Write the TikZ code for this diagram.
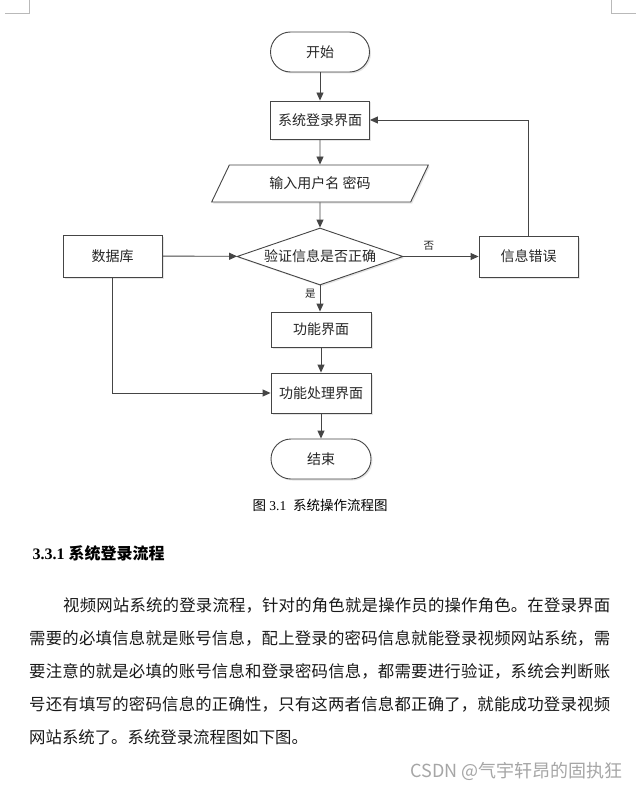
\documentclass[tikz,border=0pt]{standalone}
\usepackage{fontspec}
\setmainfont{Liberation Serif}
\newfontfamily\cjk{Noto Sans CJK SC}
\XeTeXlinebreaklocale "zh"
\XeTeXlinebreakskip=0pt plus 2pt
\usetikzlibrary{arrows.meta,shapes.geometric,shadows}
\definecolor{linegray}{HTML}{454545}

\begin{document}
\begin{tikzpicture}[x=1pt, y=-1pt,
  base/.style={draw=linegray, line width=0.9pt, fill=white, text=black!85,
    font=\cjk\fontsize{14}{16}\selectfont,
    drop shadow={shadow xshift=1.5pt, shadow yshift=-1.5pt, opacity=0.2}},
  proc/.style={base, rectangle, minimum width=99pt, minimum height=40pt},
  term/.style={base, rectangle, rounded corners=20pt, minimum width=99pt, minimum height=40pt},
  io/.style={base, trapezium, trapezium left angle=62, trapezium right angle=118,
    trapezium stretches=true, minimum width=217pt, minimum height=37pt},
  decide/.style={base, diamond, aspect=2.9, inner sep=0pt, minimum width=166pt, minimum height=57pt},
  flow/.style={draw=linegray, line width=0.9pt, -{Triangle[length=8pt,width=7pt]}},
  lbl/.style={inner sep=1pt, text=black!85, font=\cjk\fontsize{10.5}{12}\selectfont},
  para/.style={text width=581pt, inner sep=0pt, align=justify, text=black!90,
    font=\cjk\fontsize{16.4}{33}\selectfont}]
% Page
\fill[white] (0,0) rectangle (644,789);
\useasboundingbox (0,0) rectangle (644,789);
\draw[gray!55, line width=0.8pt] (5,13) -- (29,13) -- (29,0);
\draw[gray!55, line width=0.8pt] (611,0) -- (611,13) -- (636,13);

% Flow
\node[term] (start) at (320,52) {开始};
\node[proc, minimum height=38pt] (login) at (320,120) {系统登录界面};
\node[io] (input) at (320,183.5) {输入用户名 密码};
\node[decide] (check) at (320,256.5) {验证信息是否正确};
\node[proc, minimum height=42pt] (db) at (112.5,256) {数据库};
\node[proc, minimum height=41pt] (err) at (528.5,256.5) {信息错误};
\node[proc, minimum width=100pt, minimum height=35pt] (func) at (321,329.5) {功能界面};
\node[proc, minimum width=100pt] (work) at (321,393) {功能处理界面};
\node[term, minimum width=100pt] (stop) at (321,459) {结束};

% Connectors
\draw[flow] (start) -- (login);
\draw[flow] (login) -- (input);
\draw[flow] (input) -- (check);
\draw[flow] (db) -- (check);
\draw[flow] (check) -- node[lbl, pos=0.34, above=5pt] {否} (err);
\draw[flow] (err.north) |- (login.east);
\draw[flow] (check.south) -- node[lbl, pos=0.3, left=3pt] {是} (check.south |- func.north);
\draw[flow] (func) -- (work);
\draw[flow] (db.south) |- (work.west);
\draw[flow] (work) -- (stop);

% Text
\node[font=\fontsize{13.5}{15}\selectfont] (cap) at (320,505) {{\cjk 图} 3.1\enspace{\cjk 系统操作流程图}};
\node[anchor=base west, font=\fontsize{16}{18}\selectfont\bfseries] (head) at (29,559) {3.3.1 {\cjk 系统登录流程}};
\node[para, anchor=north west] (body) at (29,597) {\hspace*{34pt}视频网站系统的登录流程，针对的角色就是操作员的操作角色。在登录界面\linebreak
需要的必填信息就是账号信息，配上登录的密码信息就能登录视频网站系统，需\linebreak
要注意的就是必填的账号信息和登录密码信息，都需要进行验证，系统会判断账\linebreak
号还有填写的密码信息的正确性，只有这两者信息都正确了，就能成功登录视频\linebreak
网站系统了。系统登录流程图如下图。};
\node[anchor=east, text=gray!70, font=\cjk\fontsize{18}{20}\selectfont] (mark) at (626,771) {CSDN @气宇轩昂的固执狂};
\end{tikzpicture}
\end{document}
